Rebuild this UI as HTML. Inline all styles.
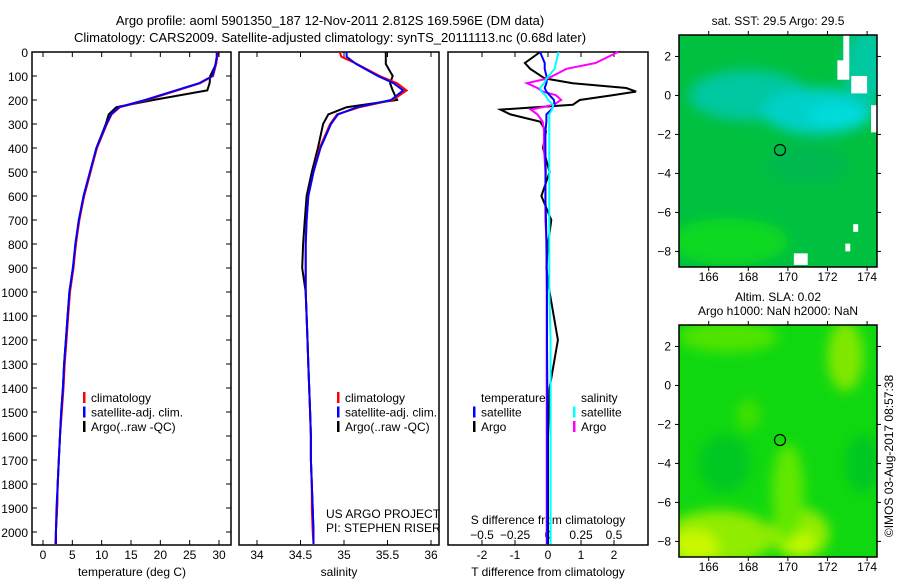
<!DOCTYPE html>
<html><head><meta charset="utf-8"><style>
body{margin:0;background:#fff}
svg{display:block;font-family:"Liberation Sans",sans-serif}
</style></head><body>
<svg id="fig" width="900" height="580" viewBox="0 0 900 580">
<defs>
<filter id="blur" x="-20%" y="-20%" width="140%" height="140%"><feGaussianBlur stdDeviation="6"/></filter>
<clipPath id="cm1"><rect x="679" y="35" width="198" height="232"/></clipPath>
<clipPath id="cm2"><rect x="679" y="325" width="198" height="232"/></clipPath>
</defs>
<g font-size="13" text-anchor="middle">
<text x="330" y="25">Argo profile: aoml 5901350_187 12-Nov-2011 2.812S 169.596E (DM data)</text>
<text x="330" y="42">Climatology: CARS2009. Satellite-adjusted climatology: synTS_20111113.nc (0.68d later)</text>
</g>
<g id="p1"></g>
<g id="p2"></g>
<g id="p3"></g>
<g id="m1"></g>
<g id="m2"></g>
<text x="897" y="460" font-size="12" text-anchor="middle" transform="rotate(-90 893 460)">©IMOS 03-Aug-2017 08:57:38</text>
</svg>
<script>
const depths=[0,20,50,100,130,160,200,230,260,300,400,500,600,700,800,900,1000,1100,1200,1300,1400,1500,1600,1700,1800,1900,2000,2050];
const tempClim=[29.7,29.7,29.5,29.0,26.8,22.9,17.7,13.1,11.7,10.9,9.2,8.1,7.0,6.2,5.6,5.2,4.6,4.3,4.0,3.7,3.5,3.2,2.9,2.7,2.5,2.4,2.2,2.1];
const tempSat=[29.6,29.6,29.4,28.9,26.6,22.6,17.4,12.9,11.6,10.8,9.1,8.0,6.9,6.1,5.5,5.1,4.5,4.2,3.9,3.6,3.4,3.1,2.9,2.7,2.5,2.3,2.2,2.2];
const tempArgo=[29.8,29.7,29.5,28.5,28.4,28.0,18.8,12.5,11.2,10.7,9.1,8.1,7.0,6.1,5.6,5.1,4.5,4.2,3.9,3.6,3.4,3.1,2.9,2.7,2.5,2.4,2.2,2.2];
const salClim=[34.95,34.97,35.15,35.41,35.61,35.72,35.56,35.18,34.92,34.84,34.72,34.65,34.59,34.57,34.56,34.56,34.56,34.57,34.58,34.59,34.6,34.61,34.62,34.62,34.63,34.63,34.64,34.65];
const salSat=[35.03,35.03,35.14,35.39,35.57,35.68,35.54,35.15,34.93,34.85,34.73,34.65,34.59,34.57,34.56,34.56,34.56,34.57,34.58,34.59,34.6,34.61,34.62,34.62,34.63,34.64,34.65,34.65];
const salArgo=[35.48,35.48,35.48,35.56,35.53,35.56,35.61,35.03,34.82,34.76,34.70,34.63,34.57,34.55,34.53,34.52,34.56,34.57,34.58,34.59,34.6,34.61,34.62,34.62,34.63,34.64,34.65,34.65];
const ddepths=[0,46,70,110,130,150,165,180,200,220,240,260,290,330,400,500,600,700,800,900,1000,1200,1400,1600,1800,2000,2050];
const dTargo=[-0.24,-0.7,-0.54,-0.1,0.75,2.37,2.67,1.95,0.96,0.75,-1.44,-1.14,-0.24,-0.06,-0.15,0.05,-0.2,0.1,0.0,-0.05,0.05,0.3,0.05,0.0,0.0,0.0,0.0];
const dSargo=[0.53,0.36,0.14,0.0,-0.16,-0.08,-0.04,0.06,0.1,0.04,-0.13,-0.08,-0.04,-0.03,-0.03,-0.02,-0.02,-0.02,-0.01,-0.01,-0.01,-0.01,-0.01,-0.01,-0.01,-0.01,-0.01];
const dTsat=[-0.24,-0.1,-0.1,-0.03,-0.05,-0.1,-0.05,0.05,0.18,0.2,0.1,-0.05,-0.05,-0.08,-0.08,-0.07,-0.08,-0.06,-0.05,-0.04,-0.03,-0.03,-0.02,-0.02,-0.02,-0.02,-0.02];
const dSsat=[0.08,0.06,0.05,-0.01,-0.03,-0.06,-0.05,-0.02,0.0,0.04,0.03,0.01,0.01,0.01,0.01,0.01,0.01,0.01,0.01,0.01,0.01,0.02,0.02,0.02,0.02,0.02,0.02];
const depthTicks=[0,100,200,300,400,500,600,700,800,900,1000,1100,1200,1300,1400,1500,1600,1700,1800,1900,2000];
const tempTicks=[0,5,10,15,20,25,30];
const salTicks=[34,34.5,35,35.5,36];
const dTTicks=[-2,-1,0,1,2];
const dSTicks=[-0.5,-0.25,0,0.25,0.5];
const lonTicks=[166,168,170,172,174];
const latTicks=[2,0,-2,-4,-6,-8];

const NS='http://www.w3.org/2000/svg';
function mk(tag,attrs,parent,txt){const e=document.createElementNS(NS,tag);for(const k in attrs)e.setAttribute(k,attrs[k]);if(txt!==undefined)e.textContent=txt;parent.appendChild(e);return e;}
const Y=d=>52+d*0.24;
const TOP=52,BOT=545;
function lin(d0,d1,r0,r1){return v=>r0+(v-d0)*(r1-r0)/(d1-d0);}
function frame(g,x0,x1){
  const r=mk('rect',{x:x0,y:TOP,width:x1-x0,height:BOT-TOP,fill:'none',stroke:'#000','stroke-width':1.5},g);
  
  
}
function line(g,xs,ys,sx,sy,col,name,w){
  const pts=xs.map((v,i)=>sx(v).toFixed(1)+','+sy(ys[i]).toFixed(1)).join(' ');
  const p=mk('polyline',{points:pts,fill:'none',stroke:col,'stroke-width':w||2},g);
  
  
}
function xticks(g,ticks,sx,labelY,top,bottom,fmt){
  ticks.forEach(t=>{const x=sx(t);
    if(bottom)mk('line',{x1:x,x2:x,y1:BOT,y2:BOT-5,stroke:'#000'},g);
    if(top)mk('line',{x1:x,x2:x,y1:TOP,y2:TOP+5,stroke:'#000'},g);
    if(labelY){const tx=mk('text',{x:x,y:labelY,'font-size':12,'text-anchor':'middle'},g,fmt?fmt(t):String(t));
      
      }
  });
}
function legend(g,x,y0,items){
  items.forEach((it,i)=>{const y=y0+i*14.5;
    mk('rect',{x:x,y:y-10,width:2.5,height:11,fill:it[1]},g);
    const t=mk('text',{x:x+8,y:y,'font-size':12},g,it[0]);
    
    
  });
}
{const g=document.getElementById('p1');const sx=lin(0,30,43,219);
 frame(g,32,231);
 depthTicks.forEach(d=>{const y=Y(d);mk('line',{x1:32,x2:37,y1:y,y2:y,stroke:'#000'},g);mk('line',{x1:231,x2:226,y1:y,y2:y,stroke:'#000'},g);
  const t=mk('text',{x:28,y:y+5,'font-size':12,'text-anchor':'end'},g,String(d));
  
  });
 xticks(g,tempTicks,sx,559,true,true);
 mk('text',{x:132,y:576,'font-size':12,'text-anchor':'middle'},g,'temperature (deg C)');
 line(g,tempArgo,depths,sx,Y,'#000','argo-temperature-line');
 line(g,tempClim,depths,sx,Y,'#f00','climatology-temperature-line');
 line(g,tempSat,depths,sx,Y,'#00f','satellite-temperature-line');
 legend(g,83,402,[['climatology','#f00'],['satellite-adj. clim.','#00f'],['Argo(..raw -QC)','#000']]);
}
{const g=document.getElementById('p2');const sx=lin(34,36,257,431);
 frame(g,239,439);
 xticks(g,salTicks,sx,559,true,true);
 mk('text',{x:339,y:576,'font-size':12,'text-anchor':'middle'},g,'salinity');
 line(g,salArgo,depths,sx,Y,'#000','argo-salinity-line');
 line(g,salClim,depths,sx,Y,'#f00','climatology-salinity-line');
 line(g,salSat,depths,sx,Y,'#00f','satellite-salinity-line');
 legend(g,337,402,[['climatology','#f00'],['satellite-adj. clim.','#00f'],['Argo(..raw -QC)','#000']]);
 mk('text',{x:326,y:518,'font-size':12},g,'US ARGO PROJECT');
 mk('text',{x:326,y:532,'font-size':12},g,'PI: STEPHEN RISER');
}
{const g=document.getElementById('p3');const sx=lin(0,2,548,614);const ss=lin(0,0.5,548,614);
 frame(g,448,648);
 xticks(g,dTTicks,sx,559,false,true);
 xticks(g,dSTicks,ss,null,true,false);
 dSTicks.forEach(t=>{const tx=mk('text',{x:ss(t),y:539,'font-size':12,'text-anchor':'middle'},g,t===0?'0':String(t).replace('-','\u2212'));
  
  });
 mk('text',{x:548,y:524,'font-size':12,'text-anchor':'middle'},g,'S difference from climatology');
 mk('text',{x:548,y:576,'font-size':12,'text-anchor':'middle'},g,'T difference from climatology');
 line(g,dTargo,ddepths,sx,Y,'#000','argo-t-diff-line');
 line(g,dSargo,ddepths,ss,Y,'#f0f','argo-s-diff-line');
 line(g,dTsat,ddepths,sx,Y,'#00f','satellite-t-diff-line');
 line(g,dSsat,ddepths,ss,Y,'#0ff','satellite-s-diff-line');
 legend(g,473,402,[['temperature','none'],['satellite','#00f'],['Argo','#000']]);
 legend(g,573,402,[['salinity','none'],['satellite','#0ff'],['Argo','#f0f']]);
}
function map(id,y0,title,base,blobs,clip,whites){
  const g=document.getElementById(id);
  const sx=lin(164.5,174.5,679,877), sy=lin(3.1,-8.8,y0,y0+232);
  const bg=mk('g',{'clip-path':'url(#'+clip+')'},g);
  mk('rect',{x:679,y:y0,width:198,height:232,fill:base},bg);
  const bl=mk('g',{filter:'url(#blur)'},bg);
  blobs.forEach(b=>mk('ellipse',{cx:sx(b[0]),cy:sy(b[1]),rx:b[2]*19.8,ry:b[3]*19.4,fill:b[4]},bl));
  (whites||[]).forEach(w=>mk('rect',{x:sx(w[0]),y:sy(w[1]),width:w[2]*19.8,height:w[3]*19.4,fill:'#fff'},bg));
  mk('rect',{x:679,y:y0,width:198,height:232,fill:'none',stroke:'#000','stroke-width':1.5},g);
  lonTicks.forEach(l=>{const x=sx(l);mk('line',{x1:x,x2:x,y1:y0,y2:y0-4,stroke:'#000'},g);mk('line',{x1:x,x2:x,y1:y0+232,y2:y0+236,stroke:'#000'},g);
    const t=mk('text',{x:x,y:y0+246,'font-size':12,'text-anchor':'middle'},g,String(l));
    
    });
  latTicks.forEach(l=>{const y=sy(l);mk('line',{x1:679,x2:675,y1:y,y2:y,stroke:'#000'},g);mk('line',{x1:877,x2:881,y1:y,y2:y,stroke:'#000'},g);
    const t=mk('text',{x:671,y:y+4,'font-size':12,'text-anchor':'end'},g,String(l).replace('-','\u2212'));
    
    });
  mk('circle',{cx:sx(169.6),cy:sy(-2.8),r:5.5,fill:'none',stroke:'#000','stroke-width':1.2},g);
  title.forEach((t,i)=>mk('text',{x:778,y:y0-24+i*14+(title.length===1?14:0),'font-size':12,'text-anchor':'middle'},g,t));
}
map('m1',35,['sat. SST: 29.5 Argo: 29.5'],'#00c040',
 [[168,0,3,1.3,'#00c8a0'],[171.5,-0.8,2.8,1.2,'#00d0c8'],[172.5,-1.0,1.5,0.6,'#00dcdc'],[174,1.5,1.2,2,'#00c8a0'],[167,-7.5,3,1.2,'#10d820'],[171,-3.5,2,1,'#00b850']],'cm1',
 [[172.8,3.1,0.3,1.4],[172.5,1.8,0.6,1],[173.2,1,0.8,0.9],[174.2,-0.5,0.4,1.4],[170.3,-8.1,0.7,0.6],[173.3,-6.6,0.25,0.4],[172.9,-7.6,0.25,0.4]]);
map('m2',325,['Altim. SLA: 0.02','Argo h1000: NaN h2000: NaN'],'#10d810',
 [[166.5,-7.8,2.8,1.4,'#90ec00'],[165.3,-8.3,1.2,0.9,'#c8f800'],[170.6,-7.6,1.5,1.3,'#90ec00'],[170.6,-8.1,0.8,0.6,'#c0f800'],[172.9,1.5,0.9,1.8,'#80e800'],[170,-5.5,0.8,2.5,'#60e800'],[167,2.5,2.5,0.8,'#50e400'],[173.8,-4,0.9,1.5,'#00c820'],[166.8,-4,1.3,1.5,'#00c820'],[168,-1.5,0.6,0.8,'#40e000']],'cm2');
</script>
</body></html>
